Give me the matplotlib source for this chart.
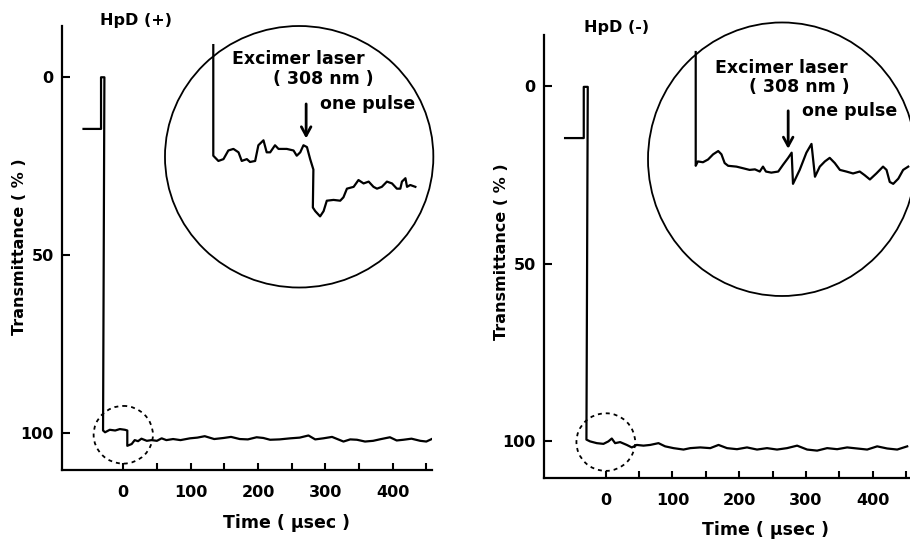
import numpy as np
import matplotlib.pyplot as plt
from matplotlib.patches import Ellipse

plt.rcParams['font.family'] = ['DejaVu Sans']
plt.rcParams['font.weight'] = 'bold'
plt.rcParams['font.size'] = 11.5

# main traces: time (usec) vs transmittance (%)
t_plus = [-59, -33, -33, -28, -30, -27, -20, -12, -5, 2.5, 6, 6, 12.5, 17, 22, 27, 35, 42,
          50, 57, 64, 74, 85, 99, 110, 121, 135, 149, 160, 173, 185, 198, 208, 218, 232,
          248, 262, 275, 285, 297, 310, 327, 337, 347, 359, 371, 383, 396, 406, 416, 428,
          441, 450, 458]
T_plus = [14.5, 14.5, 0, 0, 99.2, 99.7, 99.0, 99.2, 98.8, 99.0, 99.2, 103.5, 103.0, 101.9,
          102.2, 101.5, 102.1, 101.9, 102.1, 101.4, 101.9, 101.6, 101.9, 101.4, 101.2,
          100.8, 101.6, 101.3, 101.0, 101.6, 101.7, 101.1, 101.3, 101.8, 101.7, 101.4,
          101.2, 100.6, 101.7, 101.4, 101.0, 102.3, 101.7, 101.8, 102.3, 102.1, 101.6,
          101.1, 102.0, 101.8, 101.5, 102.1, 102.3, 101.6]

t_minus = [-61, -33, -33, -27, -29, -23.6, -13.5, -3.5, 3.9, 9, 14, 21.5, 31.5, 39, 46.5,
           56.5, 66.5, 79, 89, 101.5, 116.5, 126.6, 141.6, 156.6, 169, 181.7, 196.7, 211.7,
           226.7, 241.7, 256.7, 271.7, 286.8, 301.8, 316.8, 331.8, 346.8, 361.8, 376.8,
           391.8, 406.8, 421.8, 436.8, 451.8]
T_minus = [14.7, 14.7, 0.3, 0.3, 99.5, 100.0, 100.5, 100.7, 100.0, 99.2, 100.5, 100.2, 101.0,
           101.7, 101.0, 101.2, 101.0, 100.5, 101.4, 101.9, 102.3, 101.9, 101.7, 101.9,
           101.0, 101.9, 102.2, 101.7, 102.3, 101.9, 102.3, 101.9, 101.2, 102.3, 102.6,
           101.9, 102.2, 101.7, 102.0, 102.3, 101.4, 102.0, 102.3, 101.4]

# magnified traces inside the big circles (arbitrary units across the circle)
zx_plus = [18.0, 18.0, 19.9, 21.8, 23.6, 25.5, 27.4, 28.6, 30.5, 31.7, 33.6, 34.8, 36.7, 37.9,
           39.2, 41.0, 42.3, 45.4, 47.9, 49.1, 50.4, 51.6, 52.9, 54.1, 55.3, 55.1, 56.0, 57.8,
           59.1, 60.3, 62.8, 65.3, 66.5, 67.8, 70.3, 72.1, 74.0, 75.9, 77.7, 79.0, 80.8, 82.7,
           84.6, 86.4, 87.7, 88.3, 89.6, 90.2, 91.4, 93.3]
zy_plus = [7.3, 49.6, 51.6, 50.9, 47.6, 47.0, 48.3, 51.6, 50.9, 52.0, 51.6, 45.6, 43.7, 48.3,
           48.3, 45.6, 47.0, 47.0, 47.6, 49.6, 48.3, 45.6, 46.3, 50.9, 54.9, 69.4, 70.8, 72.8,
           70.8, 66.8, 66.5, 66.8, 65.5, 62.2, 61.5, 58.9, 60.2, 59.5, 61.5, 62.2, 61.5, 59.5,
           60.2, 62.2, 62.2, 59.5, 58.2, 61.5, 60.8, 61.5]

zx_minus = [17.8, 17.8, 18.6, 20.5, 22.4, 24.3, 26.2, 27.4, 28.6, 29.9, 33.0, 35.5, 37.9, 39.9,
            41.7, 42.9, 44.0, 46.0, 48.6, 50.4, 52.3, 53.6, 54.1, 56.6, 59.1, 61.0, 62.3, 64.1,
            66.0, 67.8, 69.7, 71.6, 74.0, 76.5, 79.0, 80.8, 82.8, 85.2, 87.7, 89.0, 90.2, 91.5,
            93.4, 95.2, 97.1]
zy_minus = [10.8, 52.4, 50.8, 51.1, 50.1, 48.2, 47.0, 48.2, 51.4, 52.4, 52.7, 53.3, 53.9, 53.7,
            54.5, 52.7, 54.5, 54.9, 54.5, 52.0, 49.5, 47.6, 59.0, 53.9, 47.6, 44.4, 56.4, 52.7,
            50.8, 49.5, 51.4, 53.9, 54.5, 55.2, 54.5, 55.8, 57.4, 55.2, 52.7, 53.9, 58.3, 59.0,
            57.1, 53.9, 52.7]

x_major = [0, 100, 200, 300, 400]
x_minor = [50, 150, 250, 350, 450]
y_ticks = [0, 50, 100]

fig = plt.figure(figsize=(9.1, 5.43), dpi=100)


def draw_panel(rect, xlim, t, T, title, title_xy, ylab_xy, xlab_xy, circ_y):
    ax = fig.add_axes(rect)
    ax.plot(t, T, color='black', lw=1.6, solid_joinstyle='round')
    ax.set_xlim(*xlim)
    ax.set_ylim(110.3, -14.4)
    for s in ['top', 'right']:
        ax.spines[s].set_visible(False)
    for s in ['left', 'bottom']:
        ax.spines[s].set_linewidth(1.6)
    ax.set_xticks(x_major)
    ax.set_xticks(x_minor, minor=True)
    ax.set_yticks(y_ticks)
    ax.tick_params(axis='x', which='both', direction='in', length=5, width=1.5, pad=11,
                   labelsize=11.5)
    ax.tick_params(axis='y', direction='in', length=6, width=1.5, pad=6, labelsize=11.5)
    ax.add_patch(Ellipse((0, circ_y), 88, 16.2, fill=False, lw=1.3,
                         linestyle=(0, (2.2, 2.2)), color='black'))
    ax.text(title_xy[0], title_xy[1], title, transform=ax.transAxes, ha='left', va='center')
    ax.text(ylab_xy[0], ylab_xy[1], 'Transmittance ( % )', transform=ax.transAxes,
            rotation=90, ha='center', va='center')
    ax.text(xlab_xy[0], xlab_xy[1], 'Time ( μsec )', transform=ax.transAxes,
            ha='center', va='center', fontsize=12.5)
    return ax


def draw_inset(rect, zx, zy, arrow_x, arrow_y, txt_pos):
    ins = fig.add_axes(rect)
    ins.set_xlim(0, 100)
    ins.set_ylim(100, 0)
    ins.axis('off')
    ins.add_patch(Ellipse((0.5, 0.5), 1, 1, transform=ins.transAxes, fill=False,
                          lw=1.3, color='black', clip_on=False))
    ins.plot(zx, zy, color='black', lw=1.6, solid_joinstyle='round', clip_on=False)
    ins.annotate('', xy=(arrow_x, arrow_y[1]), xytext=(arrow_x, arrow_y[0]),
                 arrowprops=dict(arrowstyle='->,head_length=0.55,head_width=0.3',
                                 lw=2.0, color='black', shrinkA=0, shrinkB=0))
    ins.text(txt_pos[0][0], txt_pos[0][1], 'Excimer laser', ha='left', va='center',
             fontsize=12.5)
    ins.text(txt_pos[1][0], txt_pos[1][1], '( 308 nm )', ha='center', va='center',
             fontsize=12.5)
    ins.text(txt_pos[2][0], txt_pos[2][1], 'one pulse', ha='left', va='center',
             fontsize=12.5)
    return ins


# HpD (+)
draw_panel([0.0681, 0.1344, 0.4063, 0.8177], (-91, 458), t_plus, T_plus, 'HpD (+)',
           (0.103, 1.0135), (-0.1136, 0.504), (0.607, -0.119), 100.4)
draw_inset([0.1813, 0.4705, 0.2949, 0.4816], zx_plus, zy_plus, 52.6, (29.8, 43.0),
           [(24.9, 12.6), (59.1, 20.2), (57.8, 29.8)])

# HpD (-)
draw_panel([0.5978, 0.1197, 0.4022, 0.8166], (-92.6, 456), t_minus, T_minus, 'HpD (-)',
           (0.109, 1.0156), (-0.1156, 0.51), (0.604, -0.117), 100.2)
draw_inset([0.7121, 0.4549, 0.2945, 0.5037], zx_minus, zy_minus, 52.3, (32.3, 46.2),
           [(24.9, 16.7), (56.6, 23.7), (57.3, 32.5)])

fig.savefig('out.png', dpi=100)
